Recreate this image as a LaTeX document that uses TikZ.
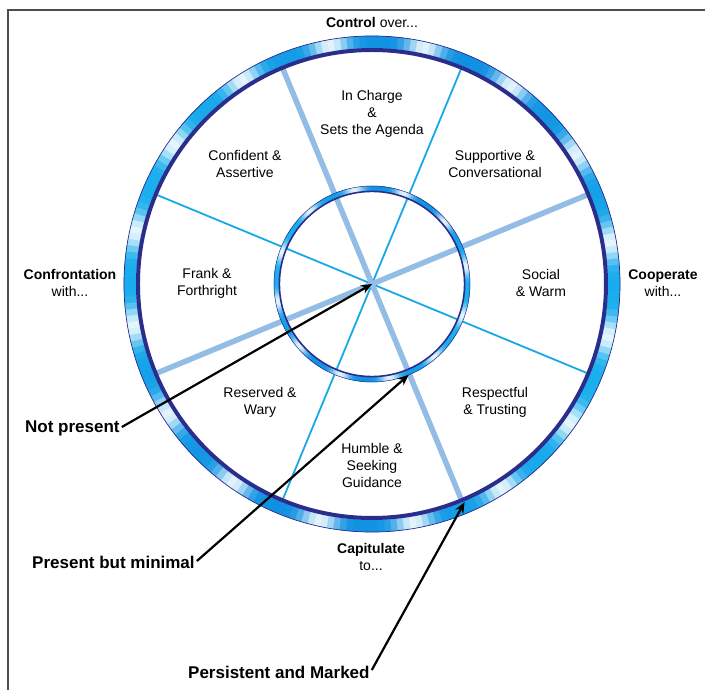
\documentclass[tikz,border=0pt]{standalone}
\usepackage{fontspec}
\setmainfont{Liberation Sans}
\usetikzlibrary{arrows.meta}
\definecolor{ringblue}{RGB}{25,175,238}
\definecolor{ringdeep}{RGB}{10,130,220}
\definecolor{navy}{RGB}{43,45,140}
\definecolor{spokelight}{RGB}{148,189,229}
\definecolor{spokebright}{RGB}{24,168,232}
\definecolor{framegray}{RGB}{77,77,77}
\newcommand\bluering[4]{%
  \foreach \a in {0,1.5,...,358.5}{%
    \pgfmathtruncatemacro\m{100-88*pow(abs(sin(#3*\a+#4)),5)}%
    \pgfmathtruncatemacro\k{65+35*cos(2*\a+40)}%
    \colorlet{segbase}{ringblue!\k!ringdeep}%
    \fill[segbase!\m!white, draw=segbase!\m!white, line width=0.3pt] (\a:#2) arc[start angle=\a, end angle=\a+1.9, radius=#2]
      -- (\a+1.9:#1) arc[start angle=\a+1.9, end angle=\a, radius=#1] -- cycle;
  }}
\begin{document}
\begin{tikzpicture}[x=1pt,y=1pt,
  lbl/.style={font=\fontsize{14}{17}\selectfont, align=center, inner sep=0pt},
  keylbl/.style={font=\bfseries\fontsize{17}{20}\selectfont, inner sep=0pt, anchor=west},
  pointer/.style={line width=2.2pt, -{Stealth[length=11pt,width=9pt]}},
  thickspoke/.style={spokelight, line width=5.5pt},
  thinspoke/.style={spokebright, line width=1.8pt}]
\useasboundingbox (-372,-406) rectangle (333,284);
\draw[framegray, line width=2pt] (-364,-406) -- (-364,274) -- (333,274);

\coordinate (c) at (0,0);
% spokes
\draw[thinspoke] (67.5:235) -- (247.5:235);
\draw[thinspoke] (157.5:235) -- (337.5:235);
\draw[thickspoke] (112.5:235) -- (292.5:235);
\draw[thickspoke] (22.5:235) -- (202.5:235);

% outer ring
\bluering{236}{248}{8}{16}
\draw[navy, line width=4pt] (c) circle[radius=234];
\draw[navy, line width=0.7pt] (c) circle[radius=248];
% inner ring
\bluering{93}{98}{6}{30}
\draw[navy, line width=1.6pt] (c) circle[radius=92.6];
\draw[navy, line width=0.5pt] (c) circle[radius=98];

% sector labels
\node[lbl] (charge) at (0,170) {In Charge\\\&\\Sets the Agenda};
\node[lbl] (support) at (123,120) {Supportive \&\\Conversational};
\node[lbl] (social) at (169,1) {Social\\\& Warm};
\node[lbl] (respect) at (123,-118) {Respectful\\\& Trusting};
\node[lbl] (humble) at (0,-181) {Humble \&\\Seeking\\Guidance};
\node[lbl] (reserved) at (-112,-118) {Reserved \&\\Wary};
\node[lbl] (frank) at (-165,1) {Frank \&\\Forthright};
\node[lbl] (confident) at (-127,120) {Confident \&\\Assertive};

% outer labels
\node[lbl] (control) at (0,261) {\textbf{Control} over...};
\node[lbl] (confront) at (-302,1) {\textbf{Confrontation}\\with...};
\node[lbl] (coop) at (291,1) {\textbf{Cooperate}\\with...};
\node[lbl] (capit) at (-1,-273) {\textbf{Capitulate}\\to...};

% key labels and pointers
\node[keylbl] (np) at (-347,-144) {Not present};
\node[keylbl] (pbm) at (-340,-278) {Present but minimal};
\node[keylbl] (pam) at (-184,-388) {Persistent and Marked};
\coordinate (pbmtip) at (-68:98);
\coordinate (pamtip) at (-67:237);
\draw[pointer] ([xshift=2pt,yshift=1pt]np.east) -- (c);
\draw[pointer] ([xshift=2pt,yshift=1pt]pbm.east) -- (pbmtip);
\draw[pointer] ([xshift=2pt,yshift=2pt]pam.east) -- (pamtip);
\end{tikzpicture}
\end{document}
